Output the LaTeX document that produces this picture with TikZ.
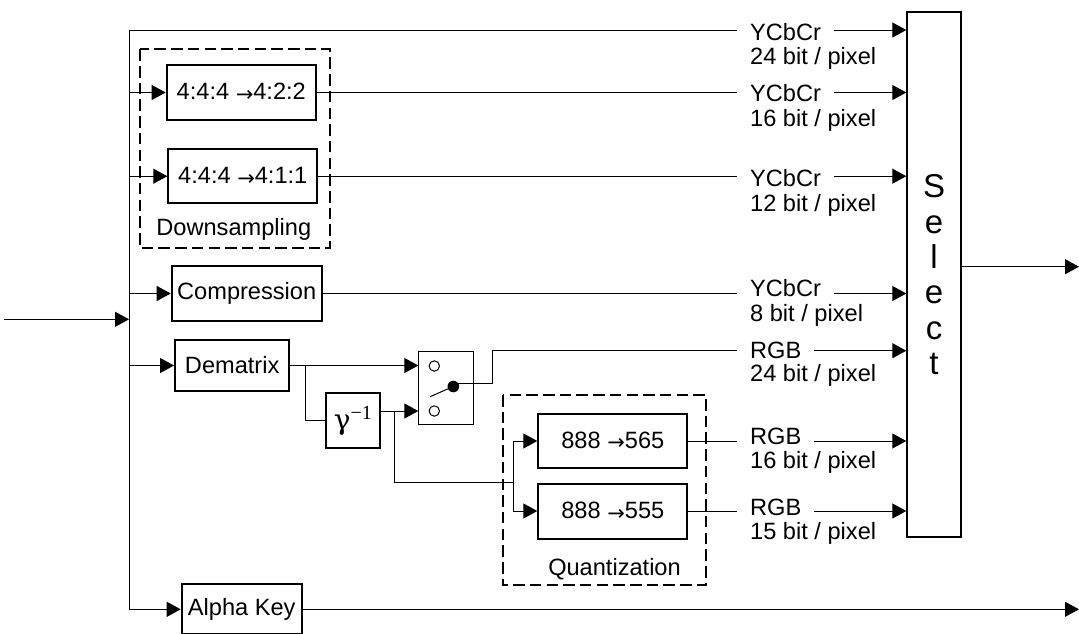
\documentclass[tikz,border=0pt]{standalone}
\usepackage{fontspec}
\setmainfont{Liberation Sans}
\newfontfamily\sergr{Liberation Serif}
\newfontfamily\dvser{DejaVu Serif}
\newfontfamily\symb{DejaVu Sans}
\newcommand{\rarr}{{\symb\fontsize{21}{21}\selectfont\raisebox{-1.5pt}{→}}}
\usetikzlibrary{arrows.meta,calc}
\begin{document}
\begin{tikzpicture}[x=1pt,y=-1pt,
  every node/.style={font=\fontsize{23.6}{25}\selectfont},
  blk/.style={draw,line width=2pt,inner sep=0pt},
  con/.style={line width=1pt},
  arr/.style={con,-{Triangle[length=14pt,width=15pt]}},
  dbox/.style={draw,line width=2pt,dash pattern=on 11.5pt off 5.2pt},
  lab/.style={fill=white,inner xsep=13pt,inner ysep=1pt,anchor=base west},
  sub/.style={inner sep=0pt,anchor=base west}]
\useasboundingbox (0,0) rectangle (1079,633);
\clip (0,0) rectangle (1079,633);

% dashed groups
\draw[dbox] (140,49.3) rectangle (330,248);
\draw[dbox] (502.7,395) rectangle (706,585);
\node[inner sep=0pt,anchor=base] (dslab) at (233.8,235) {Downsampling};
\node[inner sep=0pt,anchor=base] (qlab) at (614.5,575) {Quantization};

% blocks
\node[blk,minimum width=149.3pt,minimum height=55pt] (d422) at (241.3,92.5) {4:4:4 \rarr4:2:2};
\node[blk,minimum width=149pt,minimum height=54.3pt] (d411) at (242.8,176.2) {4:4:4 \rarr4:1:1};
\node[blk,minimum width=150pt,minimum height=55pt] (comp) at (246.7,293.5) {Compression};
\node[blk,minimum width=114.3pt,minimum height=51pt] (demat) at (232.2,365.5) {Dematrix};
\node[blk,minimum width=54pt,minimum height=55pt] (gam) at (352.8,420.8)
  {\dvser\fontsize{28}{28}\selectfont γ\raisebox{10pt}{\sergr\fontsize{20}{20}\selectfont −1}};
\node[draw,line width=1pt,minimum width=55pt,minimum height=73.3pt,inner sep=0pt] (sw) at (445.8,388.3) {};
\node[blk,minimum width=149pt,minimum height=54.4pt] (q565) at (612.8,441) {888 \rarr565};
\node[blk,minimum width=149pt,minimum height=55pt] (q555) at (612.8,511) {888 \rarr555};
\node[blk,minimum width=120pt,minimum height=50pt] (alpha) at (241.7,609.3) {Alpha Key};
\node[blk,line width=2pt,minimum width=53.4pt,minimum height=525.3pt,align=center,
  font=\fontsize{33}{35.4}\selectfont] (sel) at (934,274.7) {S\\e\\l\\e\\c\\t};

% switch internals
\draw[line width=1pt] (434.3,366) circle (5.2);
\draw[line width=1pt] (434.3,411) circle (5.2);
\fill (453.3,386.5) circle (5.8);
\draw[line width=1pt] (430,396.7) -- (453.3,386.5);

% bus
\coordinate (inp) at (4,319.3);
\coordinate (bj) at (129,319.3);
\coordinate (bt) at (129,30);
\coordinate (bb) at (129,609.3);
\draw[arr] (inp) -- (bj);
\draw[con] (bt) -- (bb);

% branches from bus
\draw[arr] (bt) -- (bt -| sel.west);
\draw[arr] (bt |- d422.west) -- (d422.west);
\draw[arr] (bt |- d411.west) -- (d411.west);
\draw[arr] (bt |- comp.west) -- (comp.west);
\draw[arr] (bt |- demat.west) -- (demat.west);
\draw[arr] (bt |- alpha.west) -- (alpha.west);

% outputs to select
\draw[arr] (d422.east) -- (d422.east -| sel.west);
\draw[arr] (d411.east) -- (d411.east -| sel.west);
\draw[arr] (comp.east) -- (comp.east -| sel.west);
\draw[arr] (q565.east) -- (q565.east -| sel.west);
\draw[arr] (q555.east) -- (q555.east -| sel.west);

% dematrix / gamma / switch
\coordinate (swa) at (418.3,365.5);
\coordinate (swb) at (418.3,411);
\coordinate (br1) at (305,365.5);
\coordinate (br2) at (394,411);
\coordinate (qj) at (513.3,482.3);
\draw[arr] (demat.east) -- (swa);
\draw[con] (br1) |- (gam.west);
\draw[arr] (swb -| gam.east) -- (swb);
\draw[con] (br2) |- (qj);
\draw[arr] (qj) |- (q565.west);
\draw[arr] (qj) |- (q555.west);
\coordinate (swo) at (453.3,383.5);
\coordinate (swk) at (492.3,383.5);
\coordinate (swu) at (492.3,350.7);
\draw[con] (swo) -- (swk) -- (swu);
\draw[arr] (swu) -- (swu -| sel.west);

% final outputs
\coordinate (selo) at (960.7,266.7);
\draw[arr] (selo) -- (1079,266.7);
\draw[arr] (alpha.east) -- (1079,609.3);

% labels
\node[lab] (l1a) at (737,40.7) {YCbCr};
\node[sub] (l1b) at (750,64.5) {24 bit / pixel};
\node[lab] (l2a) at (737,101.7) {YCbCr};
\node[sub] (l2b) at (750,126.7) {16 bit / pixel};
\node[lab] (l3a) at (737,186.7) {YCbCr};
\node[sub] (l3b) at (750,211.7) {12 bit / pixel};
\node[lab] (l4a) at (737,296.7) {YCbCr};
\node[sub] (l4b) at (750,321.7) {8 bit / pixel};
\node[lab] (l5a) at (737,358.3) {RGB};
\node[sub] (l5b) at (750,381.5) {24 bit / pixel};
\node[lab] (l6a) at (737,444.3) {RGB};
\node[sub] (l6b) at (750,468.3) {16 bit / pixel};
\node[lab] (l7a) at (737,515.7) {RGB};
\node[sub] (l7b) at (750,539.3) {15 bit / pixel};
\end{tikzpicture}
\end{document}
